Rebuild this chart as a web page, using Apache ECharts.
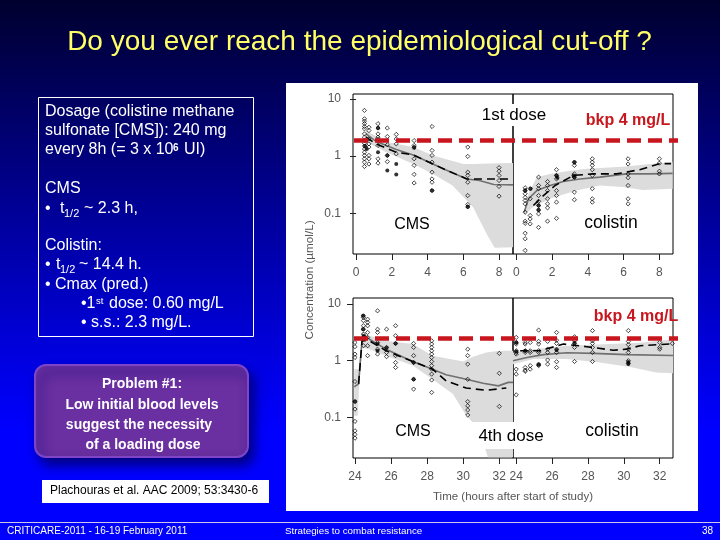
<!DOCTYPE html>
<html><head><meta charset="utf-8"><style>html,body{margin:0;padding:0;background:#00f}#c{width:720px;height:540px}</style>
<script src="https://cdn.jsdelivr.net/npm/echarts@6/dist/echarts.min.js"></script></head>
<body><div id="c"></div>
<script>
// Panel A: CMS, 1st dose
const aTimes=[0.47,0.72,1.23,1.75,2.25,3.25,4.25,6.25,8];
const aValues=[[6.3,4.5,4.1,3.7,3.3,3.0,2.45,2.15,1.87,1.69,1.5,1.34,1.17,1.03,.9,.785,.66],[3.2,2.8,2,1.64,1.44,1.03,.9,.73],[3.7,3.1,2.45,2.15,2,1.54,.9,.755],[3.1,2.2,1.58,1.03,.8],[2.4,2,1.64,1.1],[1.87,1.54,1.44,.9,.69,.48,.34],[3.3,1.26,1.03,.785,.525,.4,.35,.25],[1.44,.99,.525,.46,.35,.205,.143,.13],[.63,.546,.46,.375,.295,.2]];
const aSolid=[[.5,1.5],[.6,1.34],[1.23,1.17],[1.23,3.1],[1.75,1.03],[1.75,.56],[2.25,.73],[2.25,.48],[3.25,1.4],[4.25,.25],[6.25,.13]];
const aBandT=[.56,1.7,3.2,4.3,6,6.55,8,8.78], aBandHi=[2.8,1.76,1.44,1.03,.73,.73,.755,.76];
const aBandLoT=[.56,1.7,3.2,4.3,5.4,6.55,7.3,7.75,8.78], aBandLo=[1.76,1.17,.73,.49,.307,.128,.044,.025,.0255];
const aMedT=[.56,1.1,2.25,3.2,4.3,5,6.2,6.9,7.7,8.78], aMed=[2.45,1.83,1.31,1.05,.73,.58,.4,.375,.32,.315];
const aObsT=[.56,1.1,2.25,3.2,4.3,5,6.2,7,8.5], aObs=[2.15,1.64,1.17,1.05,.73,.58,.4,.4,.4];
// Panel B: colistin, 1st dose
const bTimes=[.5,.78,1.25,1.75,2.25,3.25,4.25,6.25,8];
const bValues=[[.28,.25,.22,.19,.168,.147,.105,.073,.067,.045,.036,.0225],[.27,.18,.092,.08,.0655],[.43,.307,.27,.205,.163,.137,.115,.098,.057],[.36,.307,.25,.18,.147,.125,.073],[.58,.46,.4,.25,.205,.157,.082],[.785,.69,.49,.43,.235,.173],[.9,.785,.69,.58,.46,.27,.18,.157],[.9,.73,.49,.42,.307,.18,.147],[.9,.755,.546,.49]];
const bSolid=[[.5,.25],[.8,.27],[1.25,.137],[1.25,.115],[2.25,.46],[2.3,.42],[3.2,.46],[3.25,.43],[3.25,.785]];
const bBandT=[.44,.69,1.15,1.89,2.81,3.93,6.15,7.44,8.74], bBandHi=[.105,.22,.43,.49,.546,.6,.66,.73,.785];
const bBandLoT=[.44,.96,1.89,2.44,3.37,4.67,5.96,7.07,8.74], bBandLo=[.095,.13,.18,.205,.25,.307,.29,.255,.27];
const bMedT=[.44,.69,1.15,1.89,2.63,3.56,4.67,6.15,7.44,8.74], bMed=[.105,.18,.25,.307,.36,.4,.43,.49,.49,.5];
const bObsT=[.96,1.52,2.17,3.19,4.3,5.6,6.9,8,8.65], bObs=[.137,.205,.307,.46,.49,.49,.58,.74,.74];
// Panel C: CMS, 4th dose
const cTimes=[24,24.47,24.7,25.25,25.75,26.25,27.25,28.25,30.25,32];
const cValues=[[2.1,1.77,1.31,1.14,.43,.19,.14,.085,.058,.05,.043],[6.2,5.8,5.1,4.15,3.6,2.95,2.4,1.84],[5.4,4.75,4.15,3.16,2.58,1.84,1.23],[7.6,3.6,3.16,2.1,1.6,1.31],[3.6,1.72,1.4,1.18],[4.15,2.76,2.02,1.23,.93,.76],[2.02,1.72,1.23,.93,.47,.316],[2.25,1.97,1.72,1.5,1.31,1.14,.97,.82,.71,.58,.456,.276],[1.6,1.23,.87,.47,.19,.16,.135,.11],[1.35,.6,.156]];
const cSolid=[[24,.19],[24.45,6.2],[24.45,3.6],[24.5,2.7],[25.25,2.0],[25.25,1.5],[25.75,1.7],[26.25,2.02],[27.25,.93],[27.25,.47]];
const cBandT=[23.96,24.2,24.39,24.8,25.72,27.2,28.3,30,30.54,31.28,32,32.76], cBandHi=[.71,.71,2.95,2.76,2.25,1.97,1.23,.97,1.18,1.4,1.5,1.5];
const cBandLoT=[23.96,24.15,24.33,24.8,25.72,27.2,28.3,29.43,30.17,30.81,31.37,32.76], cBandLo=[.107,.107,1.72,1.6,1.23,.82,.47,.258,.107,.0665,.0197,.0197];
const cMedT=[23.96,24.2,24.42,24.8,25.72,27.2,28.3,29.05,30.17,31.1,31.95,32.5,32.76], cMed=[.348,.39,2.95,2.4,1.6,.97,.71,.566,.47,.4,.36,.415,.415];
const cObsT=[24.2,24.39,24.8,25.72,27.2,28.3,29.05,30.17,31.28,32.39], cObs=[.39,2.25,2.25,1.5,.97,.71,.44,.33,.3,.33];
// Panel D: colistin, 4th dose
const dTimes=[24,24.5,24.78,25.25,25.75,26.25,27.25,28.25,30.25,32,32.7];
const dValues=[[2.58,2.1,1.97,1.5,1.4,1.31,.71,.58,.25],[2.1,1.97,1.5,1.4,.76,.68,.65],[2.1,1.5,1.4,.82,.71],[3.47,2.2,1.97,1.5,1.4,.87,.82],[2.2,1.6,1.4,1.03,.87],[3.16,2.3,2.02,1.6,1.4,.96,.76],[2.65,2.25,2.02,1.72,.97],[3.4,2.25,2.02,1.72,1.4,.97],[3.4,2.2,1.92,1.6,1.4,1,.9],[2.1,1.72,1.6],[2.02]];
const dSolid=[[24,2.1],[24,1.45],[24.5,1.5],[25.25,.85],[26.25,1.55],[27.25,2.05],[30.25,.95],[30.25,.88]];
const dBandT=[23.82,24.96,26.81,29.22,31.07,32.74], dBandHi=[1.4,1.6,1.84,1.97,2.1,2.4];
const dBandLoT=[23.82,24.96,26.81,28.67,30.5,31.8,32.74], dBandLo=[.87,1.07,1.07,.93,.76,.62,.6];
const dMedT=[23.82,24.6,25.52,26.81,28.3,30.15,32.74], dMed=[1,1.14,1.28,1.38,1.35,1.28,1.24];
const dObsT=[24.22,25.33,26.63,27.93,29.4,30.15,30.9,32.55], dObs=[1.5,1.5,1.97,1.77,1.53,1.6,1.84,1.97];
// Cut-off lines (breakpoint 4 mg/L as placed on each row)
const cutTop=[1.87,1.87], cutBottom=[2.48,2.48];
const xTicksFirst=[0,2,4,6,8], xTicksLater=[24,26,28,30,32];
const yTicks=[.1,1,10];

const panels=[
 {times:aTimes,vals:aValues,solid:aSolid,ht:aBandT,hi:aBandHi,lt:aBandLoT,lo:aBandLo,mt:aMedT,m:aMed,ot:aObsT,o:aObs,x:[353,160],y:[94,160],xr:[-.17,8.78],yr:[.0195,12.2],xt:xTicksFirst,yAxis:true},
 {times:bTimes,vals:bValues,solid:bSolid,ht:bBandT,hi:bBandHi,lt:bBandLoT,lo:bBandLo,mt:bMedT,m:bMed,ot:bObsT,o:bObs,x:[513,160],y:[94,160],xr:[-.18,8.76],yr:[.0195,12.2],xt:xTicksFirst,yAxis:false},
 {times:cTimes,vals:cValues,solid:cSolid,ht:cBandT,hi:cBandHi,lt:cBandLoT,lo:cBandLo,mt:cMedT,m:cMed,ot:cObsT,o:cObs,x:[353,160],y:[298,160],xr:[23.89,32.76],yr:[.0192,12.8],xt:xTicksLater,yAxis:true},
 {times:dTimes,vals:dValues,solid:dSolid,ht:dBandT,hi:dBandHi,lt:dBandLoT,lo:dBandLo,mt:dMedT,m:dMed,ot:dObsT,o:dObs,x:[513,160],y:[298,160],xr:[23.82,32.74],yr:[.0192,12.8],xt:xTicksLater,yAxis:false}
];
const grids=[],xAxes=[],yAxes=[],series=[];
const TICK='#555';
panels.forEach((p,i)=>{
 grids.push({left:p.x[0],width:p.x[1],top:p.y[0],height:p.y[1],show:true,borderColor:'#000',borderWidth:1,backgroundColor:'transparent'});
 xAxes.push({type:'value',gridIndex:i,min:p.xr[0],max:p.xr[1],splitLine:{show:false},axisLine:{show:false},
  axisTick:{show:true,length:6,customValues:p.xt,lineStyle:{color:'#222'}},
  axisLabel:{show:true,customValues:p.xt,color:TICK,fontSize:12,margin:13,fontFamily:'Liberation Sans'}});
 yAxes.push({type:'log',logBase:10,gridIndex:i,min:p.yr[0],max:p.yr[1],splitLine:{show:false},minorTick:{show:false},axisLine:{show:false},
  axisTick:{show:p.yAxis,length:6,customValues:yTicks,lineStyle:{color:'#222'}},
  axisLabel:{show:p.yAxis,customValues:yTicks,color:TICK,fontSize:12,margin:12,fontFamily:'Liberation Sans',formatter:v=>String(v)}});
 series.push({type:'custom',xAxisIndex:i,yAxisIndex:i,z:1,silent:true,clip:true,data:[0],
  renderItem:(params,api)=>{
   const pts=p.ht.map((t,k)=>api.coord([t,p.hi[k]])).concat(p.lt.map((t,k)=>api.coord([t,p.lo[k]])).reverse());
   return {type:'polygon',shape:{points:pts},style:{fill:'#dcdcdc'}};
  }});
 series.push({type:'line',xAxisIndex:i,yAxisIndex:i,z:2,silent:true,symbol:'none',data:p.mt.map((t,k)=>[t,p.m[k]]),lineStyle:{color:'#707070',width:1.6}});
 const open=[];p.times.forEach((t,k)=>p.vals[k].forEach(v=>open.push([t,v])));
 series.push({type:'scatter',xAxisIndex:i,yAxisIndex:i,z:3,silent:true,symbol:'diamond',symbolSize:4.2,data:open,itemStyle:{color:'rgba(255,255,255,0)',borderColor:'#000',borderWidth:.9}});
 series.push({type:'scatter',xAxisIndex:i,yAxisIndex:i,z:3,silent:true,symbol:'circle',symbolSize:4,data:p.solid,itemStyle:{color:'#000'}});
 series.push({type:'line',xAxisIndex:i,yAxisIndex:i,z:4,silent:true,symbol:'none',data:p.ot.map((t,k)=>[t,p.o[k]]),lineStyle:{color:'#000',width:1.6,type:[8,5]}});
});
// Overlay rows for the red cut-off lines, which run past the panel frame
[[panels[0],cutTop],[panels[2],cutBottom]].forEach(([p,cut],j)=>{
 const i=grids.length;
 grids.push({left:354,width:324,top:p.y[0],height:p.y[1],show:false});
 xAxes.push({type:'value',gridIndex:i,min:0,max:1,show:false});
 yAxes.push({type:'log',logBase:10,gridIndex:i,min:p.yr[0],max:p.yr[1],show:false});
 series.push({type:'line',xAxisIndex:i,yAxisIndex:i,z:6,silent:true,symbol:'none',data:[[0,cut[0]],[1,cut[1]]],lineStyle:{color:'#c8161e',width:4.5,type:[14,7]}});
});

const F='Liberation Sans';
const tx=(x,y,s,o={})=>({type:'text',z:o.z||100,rotation:o.rot||0,x:x,y:y,style:{x:0,y:0,text:s,fill:o.c||'#fff',font:(o.b?'bold ':'')+(o.s||15)+'px "'+F+'"',textAlign:o.a||'left',textVerticalAlign:'middle'}});
const g=[
 {type:'rect',z:-5,shape:{x:286,y:83,width:412,height:428},style:{fill:'#fff'}},
 {type:'rect',z:50,shape:{x:471,y:422,width:81,height:27},style:{fill:'#fff'}},
 {type:'rect',z:50,shape:{x:478,y:104,width:72,height:22},style:{fill:'#fff'}},
 {type:'rect',z:-5,shape:{x:38.5,y:97.5,width:215,height:239},style:{fill:'rgba(0,0,0,0)',stroke:'#fff',lineWidth:1}},
 {type:'rect',z:-5,shape:{x:35,y:365,width:213,height:92,r:11},style:{fill:'#6a2fa0',stroke:'#7f45c8',lineWidth:2,shadowBlur:12,shadowColor:'#000078',shadowOffsetX:5,shadowOffsetY:7}},
 {type:'rect',z:-5,shape:{x:42,y:480,width:227,height:23},style:{fill:'#fff'}},
 {type:'rect',z:-5,shape:{x:0,y:522,width:720,height:1},style:{fill:'#c8c8e8'}},
 tx(359.5,42,'Do you ever reach the epidemiological cut-off ?',{c:'#ffff66',s:28,a:'center'}),
 tx(45,112,'Dosage (colistine methane',{s:16}),
 tx(45,131,'sulfonate [CMS]): 240 mg',{s:16}),
 tx(45,150,'every 8h (= 3 x 10',{s:16}),
 tx(173,148,'6',{s:10,b:true}),
 tx(184,150,'UI)',{s:16}),
 tx(45,189,'CMS',{s:16}),
 tx(45,209,'•',{s:16}),
 tx(60,209,'t',{s:16}),
 tx(64,214,'1/2',{s:11}),
 tx(84,209,'~ 2.3 h,',{s:16}),
 tx(45,246,'Colistin:',{s:16}),
 tx(45,265,'•',{s:16}),
 tx(56,265,'t',{s:16}),
 tx(60,270,'1/2',{s:11}),
 tx(79,265,'~ 14.4 h.',{s:16}),
 tx(45,285,'• Cmax (pred.)',{s:16}),
 tx(81,304,'•1',{s:16}),
 tx(96,301,'st',{s:9.5}),
 tx(109,304,'dose: 0.60 mg/L',{s:16}),
 tx(81,323,'• s.s.: 2.3 mg/L.',{s:16}),
 tx(142,384,'Problem #1:',{b:true,s:14,a:'center'}),
 tx(142,405,'Low initial blood levels',{b:true,s:14,a:'center'}),
 tx(139,425,'suggest the necessity',{b:true,s:14,a:'center'}),
 tx(143,445,'of a loading dose',{b:true,s:14,a:'center'}),
 tx(50,491,'Plachouras et al. AAC 2009; 53:3430-6',{c:'#000',s:12}),
 tx(7,531,'CRITICARE-2011 - 16-19 February 2011',{s:10}),
 tx(285,531,'Strategies to combat resistance',{s:9.8}),
 tx(702,531,'38',{s:10}),
 tx(514,115,'1st dose',{c:'#000',s:17,a:'center'}),
 tx(628,121,'bkp 4 mg/L',{c:'#c8161e',s:16,b:true,a:'center'}),
 tx(412,225,'CMS',{c:'#000',s:16,a:'center'}),
 tx(611,223,'colistin',{c:'#000',s:17.5,a:'center'}),
 tx(636,317,'bkp 4 mg/L',{c:'#c8161e',s:16,b:true,a:'center'}),
 tx(413,432,'CMS',{c:'#000',s:16,a:'center'}),
 tx(511,436,'4th dose',{c:'#000',s:17,a:'center'}),
 tx(612,431,'colistin',{c:'#000',s:17.5,a:'center'}),
 tx(513,497,'Time (hours after start of study)',{c:'#555',s:11.5,a:'center'}),
 tx(310,280,'Concentration (µmol/L)',{c:'#555',s:11.7,a:'center',rot:Math.PI/2})
];
const chart=echarts.init(document.getElementById('c'),null,{renderer:'canvas'});
chart.setOption({animation:false,
 backgroundColor:{type:'linear',x:0,y:0,x2:0,y2:1,colorStops:[{offset:0,color:'#00002e'},{offset:.66,color:'#0000e0'},{offset:.8,color:'#0000ff'},{offset:1,color:'#0000ff'}]},
 grid:grids,xAxis:xAxes,yAxis:yAxes,series:series,graphic:{elements:g}});
</script></body></html>
